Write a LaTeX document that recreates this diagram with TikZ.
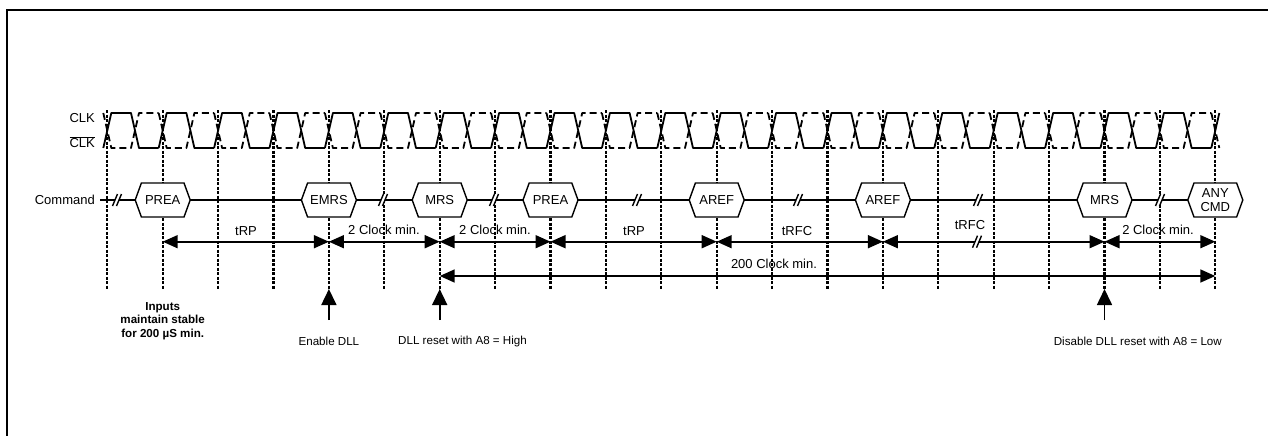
\documentclass[tikz,border=0pt]{standalone}
\usepackage{fontspec}
\setmainfont{Liberation Sans}
\usetikzlibrary{arrows.meta,shapes.symbols}
\begin{document}
\begin{tikzpicture}[x=1pt,y=1pt,
  vline/.style={line width=2.3, dash pattern=on 3 off 1.5},
  wave/.style={line width=1.8, line join=round},
  wavedash/.style={wave, dash pattern=on 7 off 4},
  cmdline/.style={line width=1.3},
  cmdbox/.style={signal, signal to=east and west, signal pointer angle=140, draw, fill=white, line width=1.4, minimum width=55, minimum height=34, inner sep=0pt, align=center, font=\fontsize{13}{14}\selectfont},
  dim/.style={line width=1.6, {Triangle[length=15,width=13]}-{Triangle[length=15,width=13]}},
  lbl/.style={font=\fontsize{13}{14}\selectfont, inner sep=0pt},
  note/.style={font=\fontsize{11.6}{13.5}\selectfont, inner sep=0pt, align=center},
  uparrow/.style={line width=1.6, -{Triangle[length=16,width=15]}},
  brk/.pic={
    \fill[white] (-4.5,-6) -- (-0.5,-6) -- (4.5,6) -- (0.5,6) -- cycle;
    \draw[line width=1.4] (-4.5,-6) -- (0.5,6) (-0.5,-6) -- (4.5,6);
  },
]
\useasboundingbox (0,0) rectangle (1268,-436);
\draw[line width=2.2] (7,-436) -- (7,-10) -- (1268,-10);

% vertical dashed lines
\foreach \i in {0,...,20} {
  \pgfmathsetmacro\xx{107.3+55.4*\i}
  \coordinate (t\i) at (\xx,-110);
  \coordinate (b\i) at (\xx,-289);
  \coordinate (a\i) at (\xx,-241.7);
  \coordinate (c\i) at (\xx,-276);
  \coordinate (m\i) at (\xx,-200);
  \coordinate (u\i) at (\xx,-320);
  \draw[vline] (t\i) -- (b\i);
}

% clock
\def\T{-113}
\def\B{-148}
\foreach \i in {0,...,19} {
  \pgfmathsetmacro\xa{107.3+55.4*\i}
  \pgfmathsetmacro\xb{\xa+55.4}
  \pgfmathsetmacro\xm{\xa+27.7}
  \draw[wave] (\xa-4,\B) -- (\xa+4,\T) -- (\xm-4,\T) -- (\xm+4,\B) -- (\xb-4,\B);
  \draw[wavedash] (\xa-4,\T) -- (\xa+4,\B) -- (\xm-4,\B) -- (\xm+4,\T) -- (\xb-4,\T);
}
\draw[wave] (1211.3,\B) -- (1219.3,\T);
\draw[wavedash] (1211.3,\T) -- (1219.3,\B);

\node[lbl, anchor=east] (clk) at (95,-118) {CLK};
\node[lbl, anchor=east] (clkb) at (95,-142) {$\overline{\mbox{CLK}}$};
\node[lbl, anchor=east] (cmd) at (95,-200) {Command};

% command line
\coordinate (cs) at (100,-200);
\draw[cmdline] (cs) -- (m20);
\node[cmdbox] (k1) at (m1) {PREA};
\node[cmdbox] (k4) at (m4) {EMRS};
\node[cmdbox] (k6) at (m6) {MRS};
\node[cmdbox] (k8) at (m8) {PREA};
\node[cmdbox] (k11) at (m11) {AREF};
\node[cmdbox] (k14) at (m14) {AREF};
\node[cmdbox] (k18) at (m18) {MRS};
\node[cmdbox] (k20) at (m20) {ANY\\CMD};
\foreach \x in {117,383,494,637,798,978,1160} {
  \pic at (\x,-200) {brk};
}

% timing arrows
\draw[dim] (a1) -- (a4);
\draw[dim] (a4) -- (a6);
\draw[dim] (a6) -- (a8);
\draw[dim] (a8) -- (a11);
\draw[dim] (a11) -- (a14);
\draw[dim] (a14) -- (a18);
\draw[dim] (a18) -- (a20);
\pic at (977,-241.7) {brk};
\node[lbl] (l1) at (246,-231) {tRP};
\node[lbl] (l2) at (384,-229.5) {2 Clock min.};
\node[lbl] (l3) at (495,-229.5) {2 Clock min.};
\node[lbl] (l4) at (634,-231) {tRP};
\node[lbl] (l5) at (797,-231) {tRFC};
\node[lbl] (l6) at (970,-225) {tRFC};
\node[lbl] (l7) at (1158,-229.5) {2 Clock min.};

\draw[dim] (c6) -- (c20);
\node[lbl] (l8) at (774,-264) {200 Clock min.};

% event arrows
\draw[uparrow] (u4) -- (b4);
\draw[uparrow] (u6) -- (b6);
\draw[uparrow] (u18) -- (b18);

\node[note, font=\fontsize{11.6}{13.5}\selectfont\bfseries] (inp) at (162.7,-321) {Inputs\\maintain stable\\for 200 µS min.};
\node[note] (en) at (328.9,-341) {Enable DLL};
\node[note, anchor=west] (dr) at (398,-341) {DLL reset with A8 = High};
\node[note, anchor=east] (dd) at (1222,-341) {Disable DLL reset with A8 = Low};
\end{tikzpicture}
\end{document}
